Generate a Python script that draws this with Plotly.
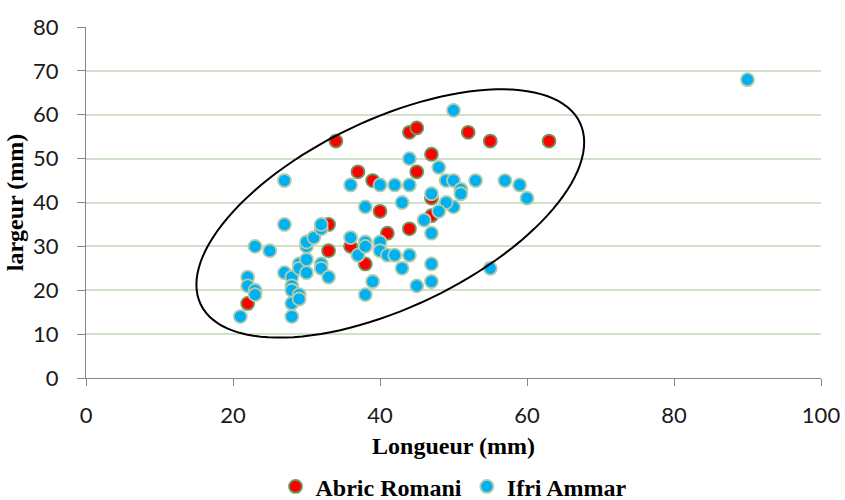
import numpy as np
import plotly.graph_objects as go

# Abric Romani measurements (mm)
abric_longueur = [34, 37, 39, 40, 33, 41, 33, 36, 38, 22, 44, 44, 45, 52, 55, 63, 47, 45, 47, 47]
abric_largeur = [54, 47, 45, 38, 35, 33, 29, 30, 26, 17, 56, 34, 57, 56, 54, 54, 51, 47, 41, 37]

# Ifri Ammar measurements (mm)
ifri_longueur = [27, 27, 23, 25, 22, 22, 23, 23, 21, 27, 28, 28, 28, 28, 28, 29, 29, 29, 29, 30,
                 30, 30, 30, 31, 32, 32, 32, 32, 33, 36, 38, 40, 42, 44, 43, 44, 36, 37, 38, 38,
                 40, 40, 41, 42, 43, 44, 39, 38, 50, 48, 49, 50, 53, 57, 59, 60, 51, 51, 50, 49,
                 48, 47, 46, 47, 47, 47, 45, 55, 90]
ifri_largeur = [45, 35, 30, 29, 23, 21, 20, 19, 14, 24, 23, 21, 20, 17, 14, 19, 18, 26, 25, 24,
                27, 30, 31, 32, 34, 35, 26, 25, 23, 44, 39, 44, 44, 44, 40, 50, 32, 28, 31, 30,
                31, 29, 28, 28, 25, 28, 22, 19, 61, 48, 45, 45, 45, 45, 44, 41, 43, 42, 39, 40,
                38, 42, 36, 33, 26, 22, 21, 25, 68]

x_ticks = [0, 20, 40, 60, 80, 100]
y_ticks = [0, 10, 20, 30, 40, 50, 60, 70, 80]

# Grouping ellipse: centre and two semi-axis vectors, in data units
ell_center = (41.4, 37.5)
ell_axis1 = (25.8, 20.7)
ell_axis2 = (5.5, -19.3)

t = np.linspace(0, 2 * np.pi, 121)
ex = ell_center[0] + ell_axis1[0] * np.cos(t) + ell_axis2[0] * np.sin(t)
ey = ell_center[1] + ell_axis1[1] * np.cos(t) + ell_axis2[1] * np.sin(t)
ell_path = "M " + " L ".join(f"{a:.3f},{b:.3f}" for a, b in zip(ex, ey)) + " Z"

fig = go.Figure()
fig.add_trace(go.Scatter(
    x=abric_longueur, y=abric_largeur, mode="markers", name="Abric Romani",
    marker=dict(size=13, color="#ff0000", line=dict(color="#6b9a62", width=1.8)),
))
fig.add_trace(go.Scatter(
    x=ifri_longueur, y=ifri_largeur, mode="markers", name="Ifri Ammar",
    marker=dict(size=13, color="#00b0f0", line=dict(color="#b2cca9", width=1.8)),
))

fig.add_shape(type="path", path=ell_path, xref="x", yref="y",
              line=dict(color="black", width=2), fillcolor="rgba(0,0,0,0)", layer="above")

tick_font = dict(family="Lato, Open Sans, sans-serif", size=22, color="#1a1a1a")
serif_bold = dict(family="Liberation Serif, serif", size=24, color="#000000", weight="bold")

fig.update_layout(
    width=845, height=500,
    margin=dict(l=86, r=24, t=27, b=122, autoexpand=False),
    paper_bgcolor="white", plot_bgcolor="white",
    showlegend=True,
    legend=dict(orientation="h", x=0.5, xanchor="center", y=-0.31, yanchor="middle",
                font=serif_bold, itemwidth=30, tracegroupgap=0),
    xaxis=dict(
        range=[0, 100], tickvals=x_ticks, showgrid=False, zeroline=False,
        showline=True, linecolor="#868686", linewidth=1.3,
        ticks="outside", ticklen=7, tickcolor="#868686",
        tickfont=tick_font, ticklabelstandoff=10, automargin=False,
        title=dict(text="Longueur (mm)", font=serif_bold, standoff=10),
    ),
    yaxis=dict(
        range=[0, 80], tickvals=y_ticks, showgrid=True, gridcolor="#cfe0cb", gridwidth=1.5,
        zeroline=False, showline=True, linecolor="#868686", linewidth=1.3,
        ticks="outside", ticklen=8, tickcolor="#868686",
        tickfont=tick_font, ticklabelstandoff=14, automargin=False,
        title=dict(text="largeur (mm)", font=serif_bold, standoff=2),
    ),
)

fig.write_html("out.html")
